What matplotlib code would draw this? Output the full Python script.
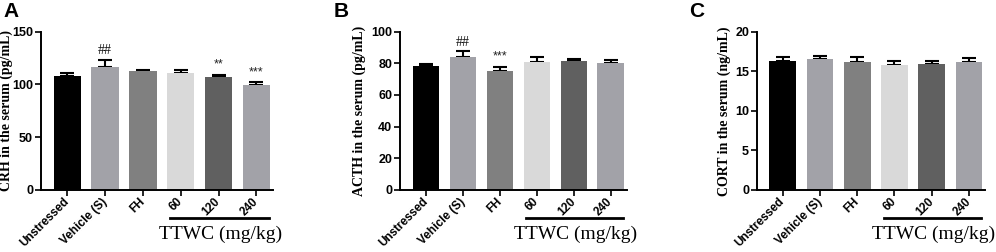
import numpy as np
import matplotlib
matplotlib.use("Agg")
import matplotlib.pyplot as plt
import matplotlib.transforms as mtransforms

# ---- data ----
groups = ["Unstressed", "Vehicle (S)", "FH", "60", "120", "240"]
bar_colors = ["#000000", "#a2a2a8", "#808080", "#d9d9d9", "#606060", "#a2a2a8"]

crh_mean = [107.5, 116.3, 112.8, 110.9, 106.8, 99.0]
crh_err = [3.1, 6.9, 1.0, 2.9, 2.2, 3.0]
crh_sig = ["", "##", "", "", "**", "***"]

acth_mean = [78.3, 84.2, 74.9, 80.8, 81.3, 80.0]
acth_err = [1.5, 3.2, 2.8, 3.0, 1.2, 2.1]
acth_sig = ["", "##", "***", "", "", ""]

cort_mean = [16.34, 16.59, 16.21, 15.79, 15.96, 16.21]
cort_err = [0.42, 0.34, 0.63, 0.46, 0.33, 0.42]
cort_sig = ["", "", "", "", "", ""]

panels = [
    ("A", crh_mean, crh_err, crh_sig, "CRH in the serum (pg/mL)", 150, [0, 50, 100, 150]),
    ("B", acth_mean, acth_err, acth_sig, "ACTH in the serum (pg/mL)", 100, [0, 20, 40, 60, 80, 100]),
    ("C", cort_mean, cort_err, cort_sig, "CORT in the serum (ng/mL)", 20, [0, 5, 10, 15, 20]),
]

W, H = 996, 252
fig = plt.figure(figsize=(W / 100, H / 100), dpi=100)

# axes boxes in pixels: (left, right), y-label centre x
boxes = [(40.7, 272.7), (400.0, 626.7), (756.7, 985.0)]
ylab_x = [12.5, 366.0, 731.0]
letter_x = [3, 334, 689]
top_px, bot_px = 31.5, 190.0

sans = ["Liberation Sans", "DejaVu Sans"]
serif = ["Liberation Serif", "DejaVu Serif"]

for (letter, mean, err, sig, ylabel, ymax, yticks), (l, r), yx, lx in zip(panels, boxes, ylab_x, letter_x):
    ax = fig.add_axes([l / W, 1 - bot_px / H, (r - l) / W, (bot_px - top_px) / H])
    x = np.arange(len(groups))
    ax.bar(x, mean, width=0.72, color=bar_colors, zorder=2)
    ax.errorbar(x, mean, yerr=[np.zeros(len(err)), err], fmt="none",
                ecolor="black", elinewidth=1.5, capsize=5, capthick=1.5, zorder=1)
    for xi, m, e, s in zip(x, mean, err, sig):
        if s:
            if "#" in s:
                ax.text(xi, m + e + ymax * 0.015, s, ha="center", va="bottom",
                        fontsize=10, family=serif, color="#111111")
            else:
                ax.text(xi, m + e + ymax * 0.025, s, ha="center", va="bottom",
                        fontsize=9, family=sans, color="#222222")

    ax.set_xlim(-0.7, 5.43)
    ax.set_ylim(0, ymax)
    ax.set_yticks(yticks)
    ax.set_xticks(x)
    ax.set_xticklabels(groups, rotation=45, ha="right", va="center",
                       rotation_mode="anchor",
                       fontsize=8.5, fontweight="bold", family=sans)
    shift = mtransforms.ScaledTranslation(6 / 100, 0, fig.dpi_scale_trans)
    for lab in ax.get_xticklabels():
        lab.set_transform(lab.get_transform() + shift)
    for lab in ax.get_yticklabels():
        lab.set_fontsize(9)
        lab.set_fontweight("bold")
        lab.set_family(sans)
    ax.set_ylabel(ylabel, fontsize=10, fontweight="bold", family=serif)
    ax.yaxis.set_label_coords((yx - l) / (r - l), 0.5)
    for side in ["top", "right"]:
        ax.spines[side].set_visible(False)
    for side in ["left", "bottom"]:
        ax.spines[side].set_linewidth(1.4)
    ax.tick_params(width=1.2, length=4, pad=1.5)
    ax.tick_params(axis="x", pad=3)

    trans = mtransforms.blended_transform_factory(ax.transData, ax.transAxes)
    ax.plot([2.72, 5.33], [-0.175, -0.175], color="black", lw=2,
            transform=trans, clip_on=False)
    ax.text(4.05, -0.28, "TTWC (mg/kg)", transform=trans, ha="center", va="center",
            fontsize=14, family=serif)

    fig.text(lx / W, 1 - 2 / H, letter, ha="left", va="top",
             fontsize=15, fontweight="bold", family=sans)

fig.savefig("out.png", dpi=100)
